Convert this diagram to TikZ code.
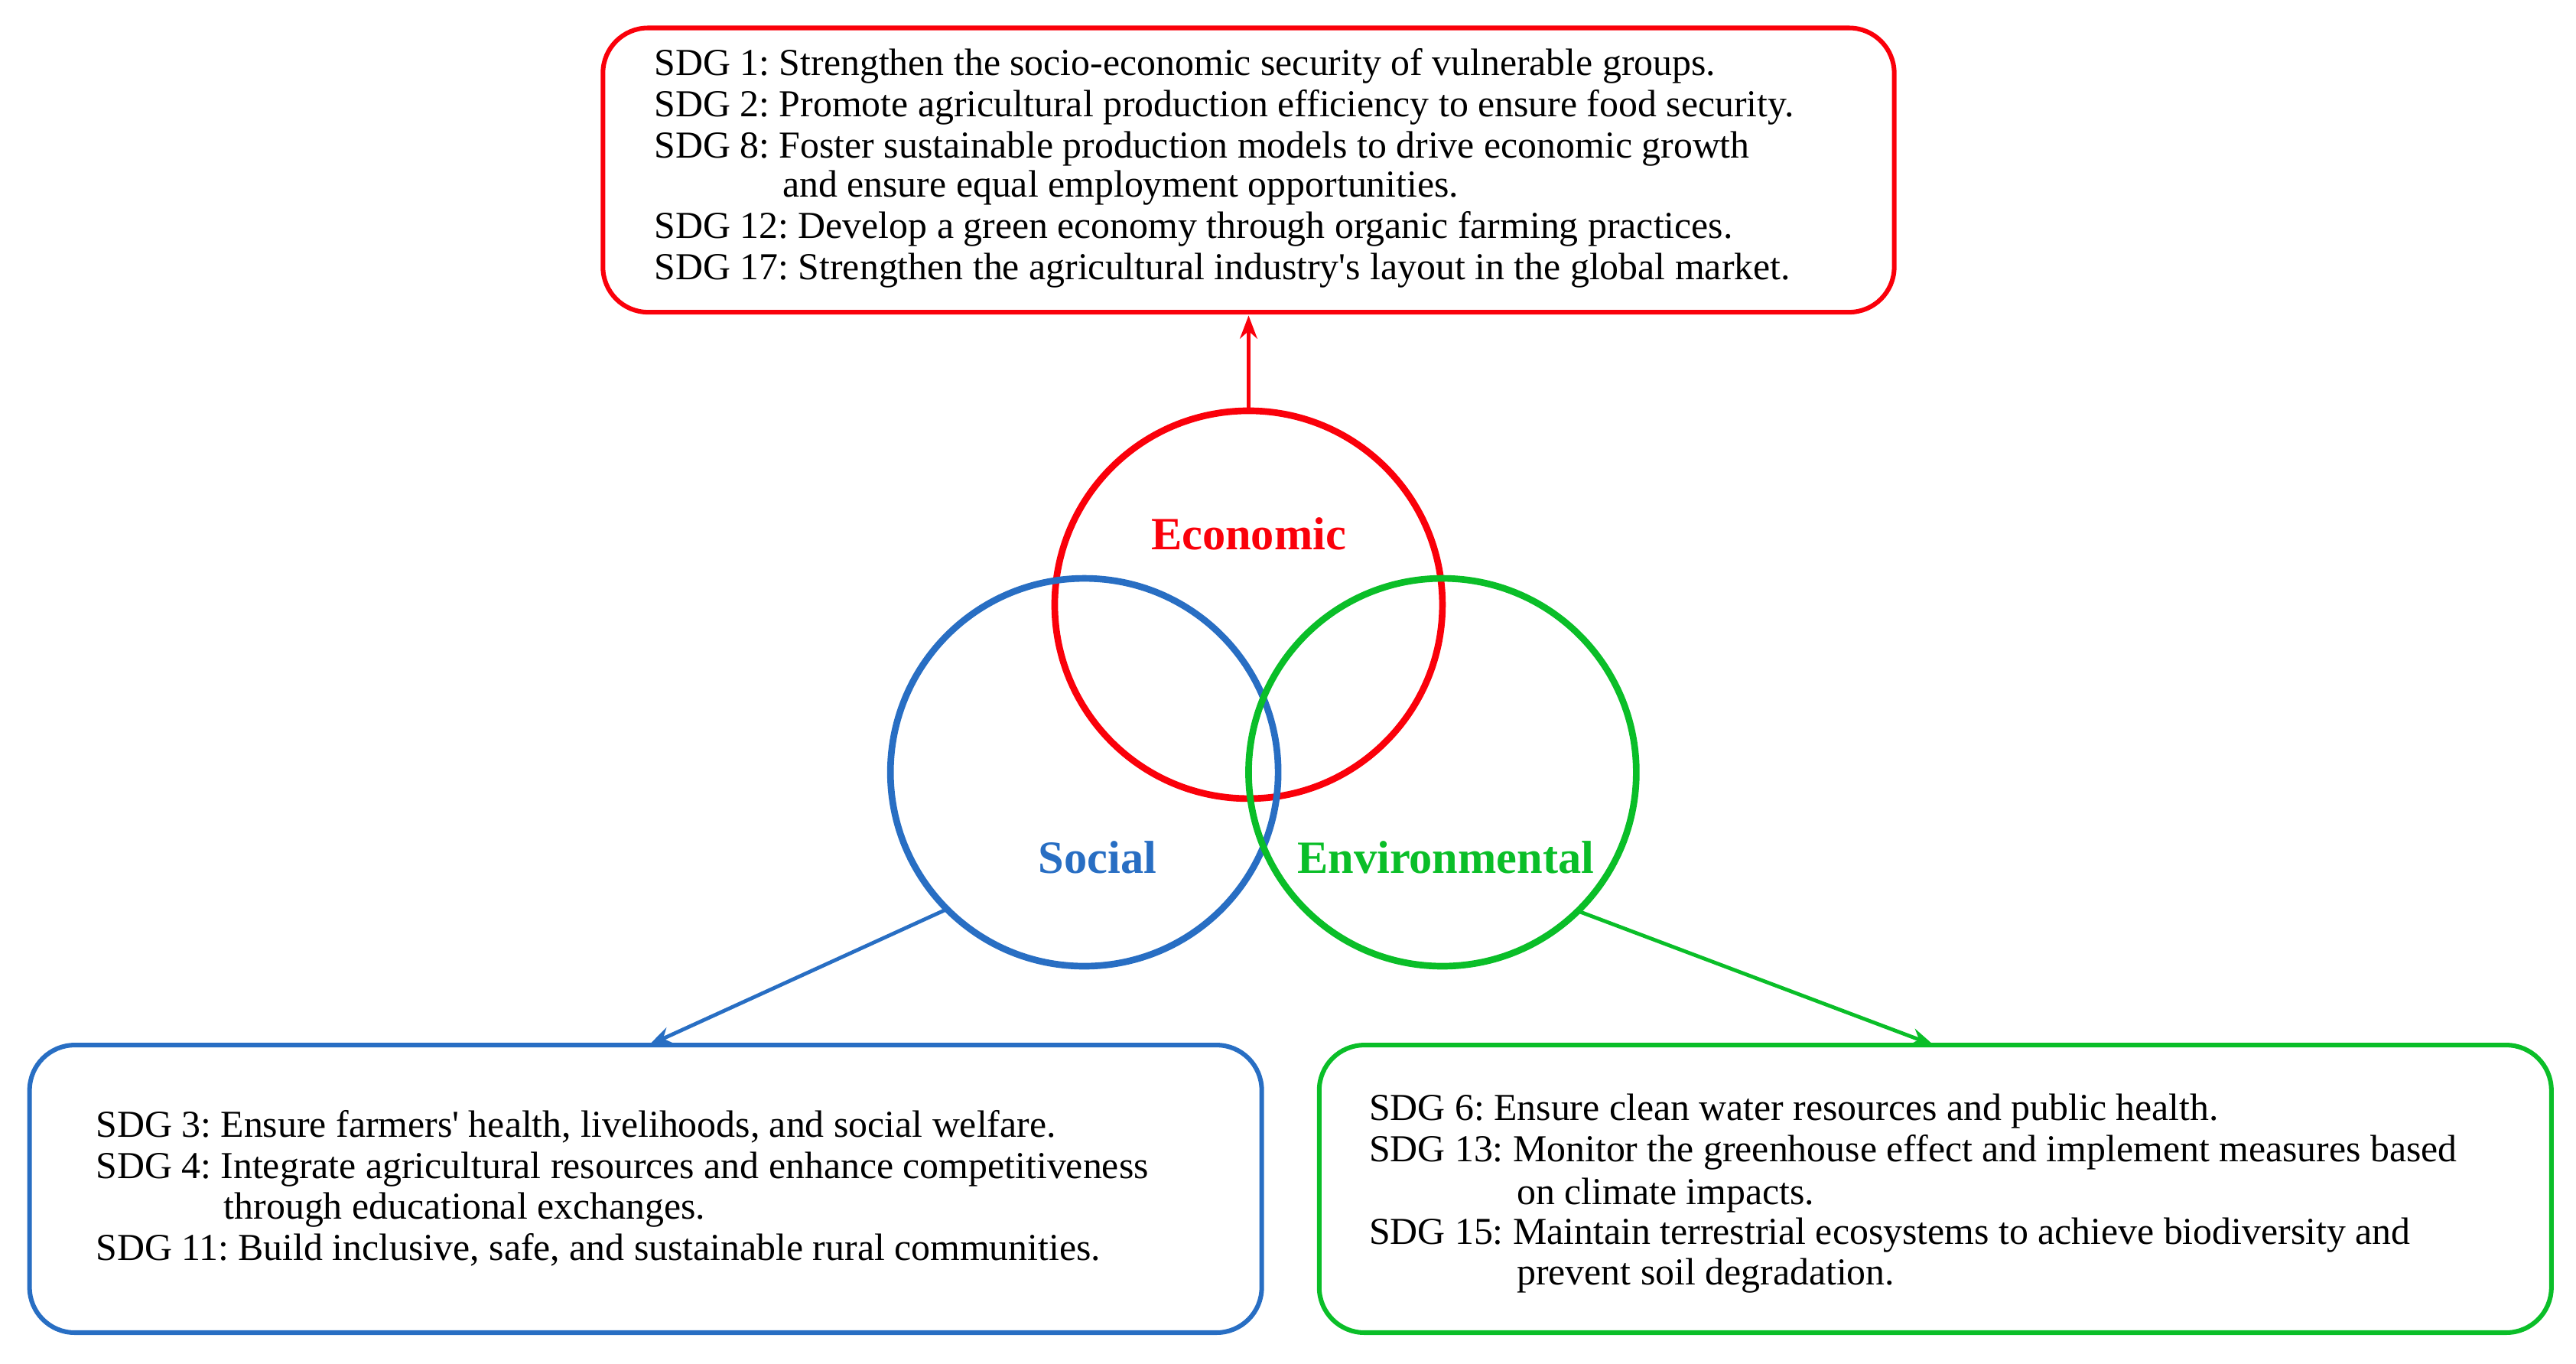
\documentclass[tikz,border=0pt]{standalone}
\usepackage{fontspec}
\setmainfont{Liberation Serif}
\usetikzlibrary{arrows.meta}
\definecolor{cred}{RGB}{250,0,10}
\definecolor{cblue}{RGB}{40,110,195}
\definecolor{cgreen}{RGB}{10,190,40}
\frenchspacing
\begin{document}
\begin{tikzpicture}[x=0.02cm,y=-0.02cm,
  box/.style={draw,line width=1.6pt,rounded corners=0.55cm},
  ring/.style={draw,line width=2.3pt},
  txt/.style={anchor=base west,inner sep=0,font=\fontsize{13.2}{15}\selectfont},
  lab/.style={font=\fontsize{16}{18}\selectfont\bfseries},
  arr/.style={line width=1.3pt,-{Stealth[length=8pt,width=6pt]}}]
\useasboundingbox (0,0) rectangle (1568,830);
% top box
\draw[box,cred] (367,17) rectangle (1153,190);
\node[txt] (t1) at (398,46) {SDG 1: Strengthen the socio-economic security of vulnerable groups.};
\node[txt] (t2) at (398,71) {SDG 2: Promote agricultural production efficiency to ensure food security.};
\node[txt] (t3) at (398,96) {SDG 8: Foster sustainable production models to drive economic growth};
\node[txt] (t4) at (476,120) {and ensure equal employment opportunities.};
\node[txt] (t5) at (398,145) {SDG 12: Develop a green economy through organic farming practices.};
\node[txt] (t6) at (398,170) {SDG 17: Strengthen the agricultural industry\textquotesingle s layout in the global market.};
\coordinate (topin) at (760,192);
% circles
\draw[ring,cred] (760,368) circle (118);
\draw[ring,cblue] (660,470) circle (118);
\draw[ring,cgreen] (878,470) circle (118);
\node[lab,text=cred] (eco) at (760,325) {Economic};
\node[lab,text=cblue] (soc) at (668,522) {Social};
\node[lab,text=cgreen] (env) at (880,522) {Environmental};
\coordinate (ecotop) at (760,250);
\coordinate (socout) at (577,553);
\coordinate (envout) at (962,555);
\coordinate (blin) at (395,636);
\coordinate (grin) at (1177,636);
\draw[arr,cred] (ecotop) -- (topin);
\draw[arr,cblue] (socout) -- (blin);
\draw[arr,cgreen] (envout) -- (grin);
% blue box
\draw[box,cblue] (18,636) rectangle (768,811);
\node[txt] (b1) at (58,692) {SDG 3: Ensure farmers\textquotesingle\ health, livelihoods, and social welfare.};
\node[txt] (b2) at (58,717) {SDG 4: Integrate agricultural resources and enhance competitiveness};
\node[txt] (b3) at (136,742) {through educational exchanges.};
\node[txt] (b4) at (58,767) {SDG 11: Build inclusive, safe, and sustainable rural communities.};
% green box
\draw[box,cgreen] (803,636) rectangle (1553,811);
\node[txt] (g1) at (833,682) {SDG 6: Ensure clean water resources and public health.};
\node[txt] (g2) at (833,707) {SDG 13: Monitor the greenhouse effect and implement measures based};
\node[txt] (g3) at (923,733) {on climate impacts.};
\node[txt] (g4) at (833,757) {SDG 15: Maintain terrestrial ecosystems to achieve biodiversity and};
\node[txt] (g5) at (923,782) {prevent soil degradation.};
\end{tikzpicture}
\end{document}
